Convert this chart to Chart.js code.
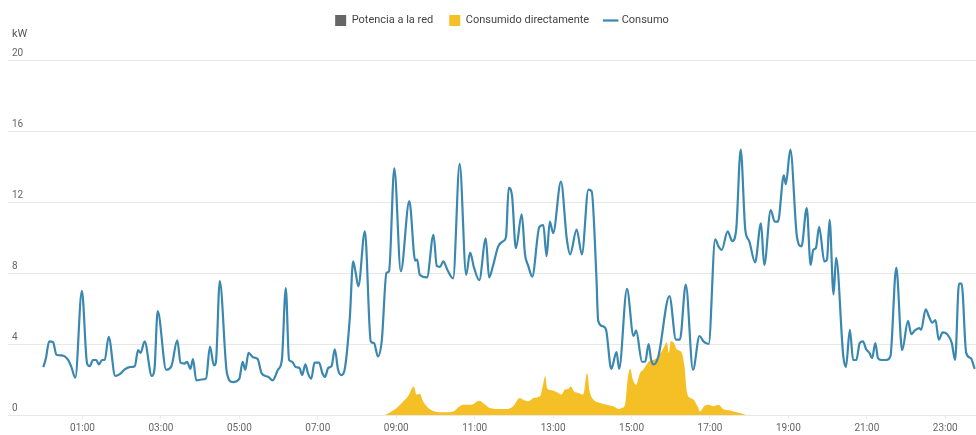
<!DOCTYPE html>
<html>
<head>
<meta charset="utf-8">
<script src="https://cdn.jsdelivr.net/npm/chart.js@4.4.1/dist/chart.umd.min.js"></script>
<style>
  html, body { margin: 0; padding: 0; background: #fff; }
  #wrap { width: 976px; height: 435px; position: relative; }
</style>
</head>
<body>
<div id="wrap"><canvas id="energy"></canvas></div>
<script>
// day profile, [minutes since 00:00, kW]
const consumo = [
  [0, 2.7], [4, 3.2], [9, 4.15], [15, 4.1], [20, 3.4], [30, 3.35], [38, 3.1], [43, 2.7], [49, 2.1],
  [59, 7.0], [67, 2.9], [71, 2.75], [76, 3.1], [81, 3.1], [85, 2.85], [90, 3.1], [94, 3.1], [100, 4.4],
  [110, 2.2], [117, 2.3], [124, 2.55], [132, 2.7], [140, 2.75], [145, 3.65], [149, 3.5], [155, 4.15],
  [166, 2.2], [170, 2.55], [175, 5.85], [188, 2.55], [196, 2.75], [205, 4.2], [210, 2.95], [216, 2.9],
  [220, 3.0], [225, 2.6], [229, 3.15], [234, 1.95], [242, 2.0], [249, 2.05], [255, 3.85], [261, 2.8],
  [264, 2.95], [270, 7.55], [281, 2.35], [290, 1.85], [300, 2.05], [305, 3.0], [309, 2.55], [314, 3.5],
  [321, 3.25], [328, 3.15], [334, 2.35], [344, 2.15], [351, 1.95], [359, 2.55], [365, 3.1], [371, 7.15],
  [376, 3.1], [381, 3.0], [386, 2.7], [392, 2.65], [396, 2.25], [401, 2.85], [405, 2.35], [410, 2.05],
  [415, 2.95], [422, 2.95], [427, 2.35], [431, 2.15], [436, 2.65], [441, 2.75], [446, 3.7], [451, 2.55],
  [456, 2.25], [461, 2.55], [469, 5.5], [474, 8.65], [478, 8.0], [482, 7.25], [492, 10.35], [501, 4.15],
  [506, 4.05], [512, 3.3], [518, 4.25], [525, 8.0], [529, 8.1], [537, 13.9], [547, 8.1], [560, 12.05],
  [569, 8.7], [572, 8.75], [576, 7.9], [587, 7.75], [597, 10.15], [602, 8.4], [607, 8.35], [612, 8.65],
  [618, 8.2], [627, 7.7], [637, 14.15], [647, 7.9], [653, 9.15], [659, 8.3], [667, 7.6], [677, 9.95],
  [682, 7.75], [688, 8.4], [696, 9.5], [704, 9.8], [708, 10.05], [712, 12.8], [717, 12.4], [723, 9.4],
  [732, 11.3], [737, 9.05], [742, 8.4], [748, 7.8], [759, 10.6], [765, 10.7], [770, 8.95], [775, 10.9],
  [780, 10.25], [792, 13.15], [801, 9.9], [806, 9.05], [816, 10.45], [824, 9.05], [834, 12.7], [839, 12.6],
  [846, 8.0], [849, 5.3], [856, 5.0], [861, 4.8], [869, 2.6], [877, 3.55], [881, 2.6], [893, 7.1],
  [903, 4.45], [907, 4.75], [916, 3.0], [921, 3.0], [926, 4.0], [930, 3.1], [934, 2.85], [941, 3.3],
  [958, 6.7], [968, 4.25], [974, 4.25], [983, 7.35], [994, 2.55], [1004, 4.45], [1010, 4.15], [1018, 4.0],
  [1028, 9.9], [1033, 9.5], [1038, 9.3], [1047, 10.35], [1054, 9.8], [1060, 10.4], [1067, 14.95],
  [1074, 10.45], [1080, 9.8], [1089, 8.6], [1098, 10.8], [1103, 8.45], [1113, 11.55], [1119, 10.9],
  [1124, 10.9], [1133, 13.5], [1136, 13.0], [1143, 14.95], [1153, 10.05], [1160, 9.5], [1168, 11.65],
  [1174, 8.45], [1178, 9.3], [1182, 9.4], [1187, 10.6], [1195, 8.65], [1199, 8.75], [1203, 11.0],
  [1209, 6.8], [1213, 8.85], [1224, 3.3], [1228, 2.7], [1234, 4.8], [1239, 3.1], [1244, 3.1], [1249, 4.05],
  [1254, 4.15], [1259, 3.7], [1264, 3.5], [1268, 3.2], [1273, 4.05], [1277, 3.2], [1282, 3.1], [1290, 3.1],
  [1296, 3.3], [1305, 8.3], [1314, 3.65], [1323, 5.3], [1328, 4.55], [1333, 4.75], [1340, 4.9], [1343, 4.8],
  [1350, 5.95], [1355, 5.55], [1360, 5.2], [1365, 5.35], [1370, 4.25], [1376, 4.65], [1383, 4.55],
  [1390, 4.05], [1395, 3.1], [1401, 7.4], [1405, 7.4], [1412, 3.5], [1419, 3.2], [1425, 2.6]
];

// solar used on site
const consumidoDirecto = [
  [523, 0], [541, 0.4], [551, 0.77], [558, 1.05], [564, 1.5], [567, 1.6], [571, 1.15], [576, 1.2],
  [581, 0.77], [589, 0.4], [599, 0.2], [612, 0.15], [627, 0.2], [637, 0.5], [643, 0.58], [655, 0.58],
  [667, 0.8], [676, 0.58], [683, 0.4], [699, 0.34], [709, 0.34], [719, 0.5], [729, 0.96], [734, 0.86],
  [742, 0.77], [750, 0.96], [760, 1.05], [764, 1.6], [768, 2.2], [771, 1.5], [778, 1.4], [786, 1.28],
  [793, 1.15], [798, 1.43], [803, 1.46], [807, 1.6], [812, 1.33], [819, 1.24], [826, 1.15], [832, 2.37],
  [836, 1.33], [842, 0.86], [852, 0.68], [862, 0.58], [872, 0.49], [880, 0.34], [885, 0.4], [890, 0.58],
  [894, 2.0], [898, 2.6], [902, 2.0], [907, 1.7], [913, 2.37], [918, 2.55], [926, 3.0], [933, 3.1],
  [941, 3.3], [949, 3.77], [954, 4.1], [957, 3.5], [960, 4.15], [965, 4.05], [969, 3.7], [977, 3.5],
  [981, 2.75], [985, 1.24], [990, 0.96], [995, 0.86], [1001, 0.49], [1005, 0.2], [1011, 0.49],
  [1018, 0.58], [1025, 0.49], [1033, 0.58], [1040, 0.34], [1051, 0.26], [1061, 0.15], [1075, 0]
];

// nothing exported to the grid this day
const potenciaRed = [];

const hourLabels = ['01:00', '03:00', '05:00', '07:00', '09:00', '11:00', '13:00', '15:00', '17:00', '19:00', '21:00', '23:00'];
const kwTicks = [0, 4, 8, 12, 16, 20];

const toXY = arr => arr.map(p => ({ x: p[0], y: p[1] }));
const toMinutes = label => {
  const [h, m] = label.split(':').map(Number);
  return h * 60 + m;
};

const tickFont = { family: 'Roboto, sans-serif', size: 10 };

// fixed legend height so the plot starts where the grid should
const legendSpace = {
  id: 'legendSpace',
  beforeInit(chart) {
    const fitValue = chart.legend.fit;
    chart.legend.fit = function fit() {
      fitValue.bind(chart.legend)();
      this.height = 60;
    };
  },
  afterLayout(chart) {
    const legend = chart.legend;
    legend.left += 10;
    legend.right += 10;
    legend.top -= 1;
    legend.bottom -= 1;
  }
};

// unit label over the value axis
const unitLabel = {
  id: 'unitLabel',
  afterDraw(chart) {
    const ctx = chart.ctx;
    ctx.save();
    ctx.font = '11px Roboto, sans-serif';
    ctx.fillStyle = '#555';
    ctx.textAlign = 'left';
    ctx.textBaseline = 'middle';
    ctx.fillText('kW', chart.chartArea.left + 4, chart.chartArea.top - 26);
    ctx.restore();
  }
};

new Chart(document.getElementById('energy'), {
  type: 'line',
  data: {
    datasets: [
      {
        label: 'Potencia a la red',
        data: toXY(potenciaRed),
        backgroundColor: '#666666',
        borderColor: '#666666',
        borderWidth: 0,
        pointStyle: 'rect',
        pointRadius: 0,
        fill: 'origin',
        order: 3
      },
      {
        label: 'Consumido directamente',
        data: toXY(consumidoDirecto),
        backgroundColor: '#f5bf26',
        borderColor: '#f5bf26',
        borderWidth: 0,
        pointStyle: 'rect',
        pointRadius: 0,
        fill: 'origin',
        cubicInterpolationMode: 'monotone',
        order: 2
      },
      {
        label: 'Consumo',
        data: toXY(consumo),
        borderColor: '#3a87b0',
        backgroundColor: '#3a87b0',
        borderWidth: 2.2,
        pointStyle: 'line',
        pointRadius: 0,
        fill: false,
        cubicInterpolationMode: 'monotone',
        order: 1
      }
    ]
  },
  options: {
    responsive: true,
    maintainAspectRatio: false,
    animation: false,
    layout: {
      padding: { top: 0, left: 8, right: 0, bottom: 0 }
    },
    scales: {
      x: {
        type: 'linear',
        min: -54,
        max: 1427,
        afterBuildTicks: scale => {
          scale.ticks = hourLabels.map(l => ({ value: toMinutes(l) }));
        },
        afterFit: scale => {
          scale.height = 20;
        },
        grid: {
          drawOnChartArea: false,
          drawTicks: true,
          tickLength: 4,
          tickColor: '#ececec'
        },
        border: { display: false },
        ticks: {
          autoSkip: false,
          maxRotation: 0,
          padding: 3,
          color: '#666',
          font: tickFont,
          callback: value => hourLabels.find(l => toMinutes(l) === value) || ''
        }
      },
      y: {
        min: 0,
        max: 20,
        afterBuildTicks: scale => {
          scale.ticks = kwTicks.map(v => ({ value: v }));
        },
        afterFit: scale => {
          scale.width = 0;
        },
        grid: {
          color: '#e8e8e8',
          drawTicks: false
        },
        border: { display: false },
        ticks: {
          mirror: true,
          padding: 4,
          labelOffset: -7,
          color: '#666',
          font: tickFont
        }
      }
    },
    plugins: {
      legend: {
        position: 'top',
        labels: {
          usePointStyle: true,
          boxHeight: 12,
          padding: 16,
          color: '#444',
          font: { family: 'Roboto, sans-serif', size: 11 },
          sort: (a, b) => a.datasetIndex - b.datasetIndex
        }
      },
      tooltip: { enabled: false }
    }
  },
  plugins: [legendSpace, unitLabel]
});
</script>
</body>
</html>
